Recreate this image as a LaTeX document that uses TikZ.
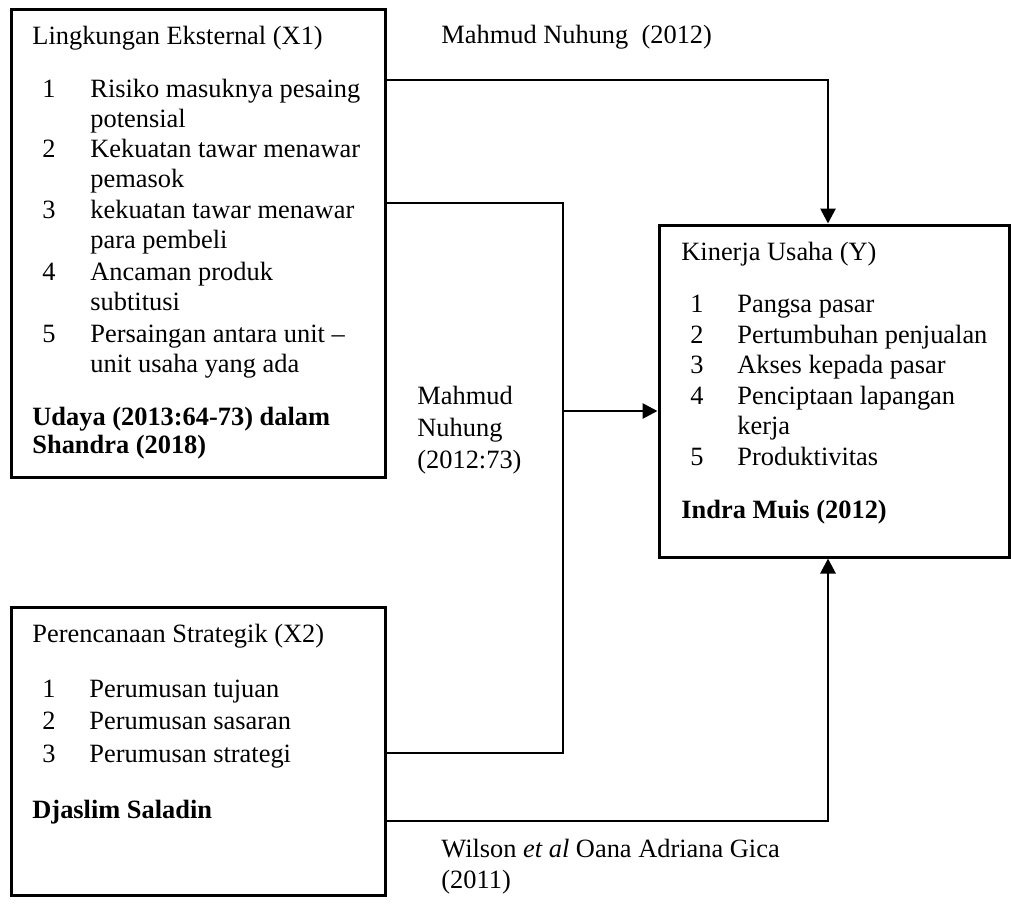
\documentclass[tikz,border=0pt]{standalone}
\usepackage{fontspec}
\setmainfont{Liberation Serif}
\usetikzlibrary{arrows.meta}
\begin{document}
\begin{tikzpicture}[x=0.5pt,y=-0.5pt,
  box/.style={draw,line width=1.5pt,rectangle,inner sep=0pt},
  txt/.style={anchor=base west,inner sep=0pt,font=\fontsize{13.2}{15.4}\selectfont},
  src/.style={anchor=base west,inner sep=0pt,font=\fontsize{13.2}{15.4}\selectfont\bfseries},
  conn/.style={line width=1.4pt},
  arr/.style={conn,-{Triangle[length=7.5pt,width=7.5pt]}}]
\useasboundingbox (0,0) rectangle (1011,906);
% boxes
\node[box,minimum width=187pt,minimum height=234pt] (x1) at (198,243) {};
\node[box,minimum width=175pt,minimum height=166pt] (y) at (834,391) {};
\node[box,minimum width=187pt,minimum height=144pt] (x2) at (198,751) {};
% X1 text
\node[txt] (x1t) at (32,44) {Lingkungan Eksternal (X1)};
\node[txt] (x1n1) at (42,97) {1};
\node[txt] (x1a) at (90,97) {Risiko masuknya pesaing};
\node[txt] (x1b) at (90,127) {potensial};
\node[txt] (x1n2) at (42,157) {2};
\node[txt] (x1c) at (90,157) {Kekuatan tawar menawar};
\node[txt] (x1d) at (90,187) {pemasok};
\node[txt] (x1n3) at (42,218) {3};
\node[txt] (x1e) at (90,218) {kekuatan tawar menawar};
\node[txt] (x1f) at (90,248) {para pembeli};
\node[txt] (x1n4) at (42,280) {4};
\node[txt] (x1g) at (90,280) {Ancaman produk};
\node[txt] (x1h) at (90,310) {subtitusi};
\node[txt] (x1n5) at (42,342) {5};
\node[txt] (x1i) at (90,342) {Persaingan antara unit --};
\node[txt] (x1j) at (90,372) {unit usaha yang ada};
\node[src] (x1s1) at (32,425) {Udaya (2013:64-73) dalam};
\node[src] (x1s2) at (32,453) {Shandra (2018)};
% Y text
\node[txt] (yt) at (681,260) {Kinerja Usaha (Y)};
\node[txt] (yn1) at (690,312) {1};
\node[txt] (ya) at (737,312) {Pangsa pasar};
\node[txt] (yn2) at (690,343) {2};
\node[txt] (yb) at (737,343) {Pertumbuhan penjualan};
\node[txt] (yn3) at (690,373) {3};
\node[txt] (yc) at (737,373) {Akses kepada pasar};
\node[txt] (yn4) at (690,404) {4};
\node[txt] (yd) at (737,404) {Penciptaan lapangan};
\node[txt] (ye) at (737,434) {kerja};
\node[txt] (yn5) at (690,465) {5};
\node[txt] (yf) at (737,465) {Produktivitas};
\node[src] (ys) at (681,518) {Indra Muis (2012)};
% X2 text
\node[txt] (x2t) at (32,642) {Perencanaan Strategik (X2)};
\node[txt] (x2n1) at (42,697) {1};
\node[txt] (x2a) at (89,697) {Perumusan tujuan};
\node[txt] (x2n2) at (42,729) {2};
\node[txt] (x2b) at (89,729) {Perumusan sasaran};
\node[txt] (x2n3) at (42,762) {3};
\node[txt] (x2c) at (89,762) {Perumusan strategi};
\node[src] (x2s) at (32,818) {Djaslim Saladin};
% labels
\node[txt] (l1) at (441,43) {Mahmud Nuhung\ \ (2012)};
\node[txt] (l2a) at (417,404) {Mahmud};
\node[txt] (l2b) at (417,436) {Nuhung};
\node[txt] (l2c) at (417,468) {(2012:73)};
\node[txt] (l3a) at (441,857) {Wilson \textit{et al} Oana Adriana Gica};
\node[txt] (l3b) at (441,888) {(2011)};
% connectors
\coordinate (r1) at (0,80);
\coordinate (r2) at (0,203);
\coordinate (r3) at (0,753);
\coordinate (r4) at (0,821);
\coordinate (cx) at (828,0);
\coordinate (j1) at (563,411);
\draw[arr] (x1.east |- r1) -| (y.north -| cx);
\draw[conn] (x1.east |- r2) -| (j1) |- (x2.east |- r3);
\draw[arr] (j1) -- (y.west |- j1);
\draw[arr] (x2.east |- r4) -| (y.south -| cx);
\end{tikzpicture}
\end{document}
